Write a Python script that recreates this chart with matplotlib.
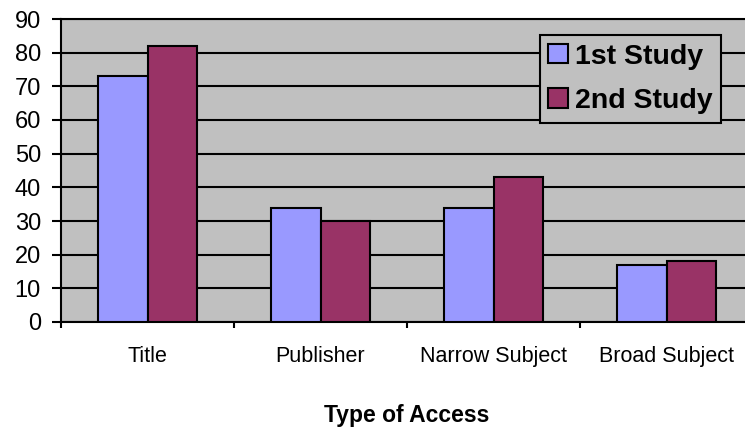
import numpy as np
import matplotlib
matplotlib.use("Agg")
from matplotlib import pyplot as plt

categories = ["Title", "Publisher", "Narrow Subject", "Broad Subject"]
first_study = [73, 34, 34, 17]
second_study = [82, 30, 43, 18]
series_names = ["1st Study", "2nd Study"]
y_ticks = list(range(0, 100, 10))

plt.rcParams["font.family"] = ["Liberation Sans", "DejaVu Sans"]

fig = plt.figure(figsize=(7.45, 4.32), dpi=100)
# plot area runs past the right edge of the picture, like the original
ax = fig.add_axes([61 / 745, 110 / 432, 692 / 745, 303 / 432])
ax.set_facecolor("#C0C0C0")

x = np.arange(len(categories))
w = 1 / 3.5
ax.bar(x - w / 2, first_study, w, color="#9999FF", edgecolor="black", linewidth=1.5,
       label=series_names[0], zorder=3)
ax.bar(x + w / 2, second_study, w, color="#993366", edgecolor="black", linewidth=1.5,
       label=series_names[1], zorder=3)

ax.set_xlim(-0.5, len(categories) - 0.5)
ax.set_ylim(0, 90)
ax.set_yticks(y_ticks)
ax.yaxis.grid(True, color="black", linewidth=1.5, zorder=1)
ax.set_axisbelow(True)

ax.set_xticks(x)
ax.set_xticklabels(categories, fontsize=15.5)
ax.tick_params(axis="x", length=0, pad=17)
ax.set_xticks(np.arange(len(categories)) - 0.5, minor=True)
ax.tick_params(axis="x", which="minor", length=4.5, width=1.5, direction="out")
ax.tick_params(axis="y", labelsize=17, length=6.5, width=1.5, direction="out", pad=8)

for s in ["left", "bottom", "top"]:
    ax.spines[s].set_linewidth(1.5)
ax.spines["right"].set_visible(False)

ax.set_xlabel("Type of Access", fontsize=16.5, fontweight="bold", labelpad=27)

leg = ax.legend(loc="upper right", bbox_to_anchor=((721 - 61) / 692, (322 - 35) / 303),
                bbox_transform=ax.transAxes, prop={"size": 20.5, "weight": "bold"},
                frameon=True, fancybox=False, facecolor="#C0C0C0", edgecolor="black",
                framealpha=1, handlelength=0.68, handleheight=0.68, handletextpad=0.25,
                borderpad=0.3, labelspacing=0.65, borderaxespad=0)
leg.get_frame().set_linewidth(1.5)
for h in leg.legend_handles:
    h.set_linewidth(1.5)

fig.savefig("out.png", dpi=100)
